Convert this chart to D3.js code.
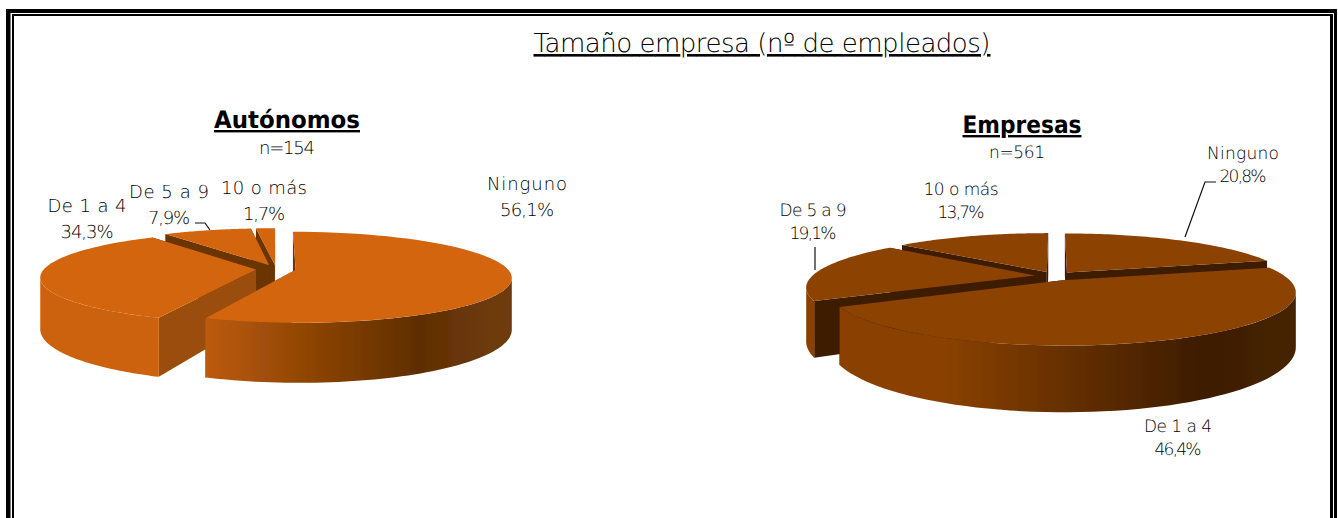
<!DOCTYPE html>
<html>
<head>
<meta charset="utf-8">
<script src="https://cdnjs.cloudflare.com/ajax/libs/d3/7.8.5/d3.min.js"></script>
<style>
  html, body { margin: 0; padding: 0; background: #fff; overflow: hidden; }
  text { font-family: "DejaVu Sans", sans-serif; font-weight: 200; fill: #000; text-rendering: geometricPrecision; }
</style>
</head>
<body>
<div id="chart"></div>
<script>
// data
var categories = ["Ninguno", "De 1 a 4", "De 5 a 9", "10 o más"];
var autonomosValues = [56.1, 34.3, 7.9, 1.7];
var empresasValues = [20.8, 46.4, 19.1, 13.7];
var autonomosLabels = ["56,1%", "34,3%", "7,9%", "1,7%"];
var empresasLabels = ["20,8%", "46,4%", "19,1%", "13,7%"];

var width = 1338, height = 518;

var svg = d3.select("#chart").append("svg")
  .attr("width", width)
  .attr("height", height)
  .style("display", "block");

var defs = svg.append("defs");

// pies in the picture are a little soft
defs.append("filter").attr("id", "soft")
  .append("feGaussianBlur").attr("stdDeviation", 0.5);

// double frame, open at the bottom
var frame = [
  {x: 6, y: 9, w: 4.5, h: height - 9}, {x: 6, y: 9, w: 1331, h: 4}, {x: 1334, y: 9, w: 3, h: height - 9},
  {x: 12, y: 14, w: 2, h: height - 14}, {x: 12, y: 14, w: 1321, h: 2}, {x: 1330, y: 14, w: 3, h: height - 14}
];
svg.selectAll(".frame").data(frame).enter().append("rect")
  .attr("class", "frame")
  .attr("x", d => d.x).attr("y", d => d.y)
  .attr("width", d => d.w).attr("height", d => d.h)
  .attr("fill", "#000");

svg.append("text")
  .attr("x", 762).attr("y", 52)
  .attr("text-anchor", "middle")
  .attr("font-size", 26)
  .attr("textLength", 457)
  .style("text-decoration", "underline")
  .text("Tamaño empresa (nº de empleados)");

// exploded pie in perspective
function drawPie(opt) {
  var g = svg.append("g").attr("filter", "url(#soft)");
  var pie = d3.pie().sort(null).value(d => d)(opt.values);
  var line = d3.line();

  function project(theta, r, z, off) {
    var X = r * Math.sin(theta) + opt.explode * Math.sin(off);
    var Y = (-r * Math.cos(theta) - opt.explode * Math.cos(off)) / opt.R;
    var w = 1 - opt.persp * Y;
    return [opt.cx + X / w, opt.cy + (opt.ry * Y + z) / w];
  }

  var gradId = "wall-" + opt.id;
  var grad = defs.append("linearGradient")
    .attr("id", gradId)
    .attr("gradientUnits", "userSpaceOnUse")
    .attr("x1", opt.cx - opt.R * 0.5).attr("x2", opt.cx + opt.R).attr("y1", 0).attr("y2", 0);
  grad.append("stop").attr("offset", 0).attr("stop-color", opt.wallLight);
  grad.append("stop").attr("offset", 0.78).attr("stop-color", opt.wallDark);
  grad.append("stop").attr("offset", 1).attr("stop-color", opt.wallEnd);

  // back slices first
  var slices = pie.map((s, i) => ({
    start: s.startAngle, end: s.endAngle, mid: (s.startAngle + s.endAngle) / 2, i: i
  })).sort((a, b) => Math.cos(b.mid) - Math.cos(a.mid));

  // the rim turns away from the eye where Y equals the perspective factor
  var limit = Math.acos(-opt.persp);

  slices.forEach(function(s) {
    var slice = g.append("g").attr("class", "slice");

    // cut faces
    [s.start, s.end].map(a => ({a: a, y: -Math.cos(a)}))
      .sort((a, b) => a.y - b.y)
      .forEach(function(f) {
        slice.append("path")
          .attr("d", line([
            project(0, 0, 0, s.mid), project(f.a, opt.R, 0, s.mid),
            project(f.a, opt.R, opt.depth, s.mid), project(0, 0, opt.depth, s.mid)
          ]) + "Z")
          .attr("fill", f.a > Math.PI && f.a < Math.PI * 1.3 && opt.id == "a" ? opt.cutLight : opt.cut);
      });

    // outer wall, front part only
    var a0 = Math.max(s.start, limit), a1 = Math.min(s.end, Math.PI * 2 - limit);
    if (a1 > a0) {
      var angles = d3.range(0, 61).map(i => a0 + (a1 - a0) * i / 60);
      var wall = angles.map(a => project(a, opt.R, 0, s.mid))
        .concat(angles.slice().reverse().map(a => project(a, opt.R, opt.depth, s.mid)));
      slice.append("path")
        .attr("d", line(wall) + "Z")
        .attr("fill", "url(#" + gradId + ")");
    }

    // top surface
    var rim = d3.range(0, 61).map(i => s.start + (s.end - s.start) * i / 60)
      .map(a => project(a, opt.R, 0, s.mid));
    slice.append("path")
      .attr("d", line([project(0, 0, 0, s.mid)].concat(rim)) + "Z")
      .attr("fill", opt.top);
  });

  // heading
  svg.append("text")
    .attr("x", opt.titlePos[0]).attr("y", opt.titlePos[1])
    .attr("text-anchor", "middle")
    .attr("font-size", 24)
    .attr("textLength", opt.titleWidth)
    .attr("lengthAdjust", "spacingAndGlyphs")
    .style("font-weight", 700)
    .style("text-decoration", "underline")
    .text(opt.title);
  svg.append("text")
    .attr("x", opt.nPos[0]).attr("y", opt.nPos[1])
    .attr("text-anchor", "middle")
    .attr("font-size", opt.labelSize)
    .attr("textLength", 56)
    .text(opt.n);

  // leader lines
  svg.selectAll(".leader-" + opt.id).data(opt.leaders).enter().append("path")
    .attr("class", "leader-" + opt.id)
    .attr("d", d => line(d))
    .attr("fill", "none")
    .attr("stroke", "#111")
    .attr("stroke-width", 1.2);

  // category and percentage labels
  categories.forEach(function(c, i) {
    var p = opt.labelPos[i];
    svg.append("text").attr("x", p[0]).attr("y", p[1])
      .attr("text-anchor", "middle").attr("font-size", opt.labelSize)
      .attr("textLength", opt.catWidth[i])
      .text(c);
    svg.append("text").attr("x", p[0]).attr("y", p[1] + opt.labelGap)
      .attr("text-anchor", "middle").attr("font-size", opt.labelSize)
      .attr("textLength", opt.pctWidth[i])
      .text(opt.labels[i]);
  });
}

drawPie({
  id: "a", values: autonomosValues, labels: autonomosLabels,
  cx: 276, cy: 269, R: 212, ry: 44, persp: 0.164, depth: 50, explode: 20,
  top: "#d2650a", wallLight: "#cc620a", wallDark: "#5e2e02", wallEnd: "#6e3a0c",
  cut: "#6b3402", cutLight: "#9a4d08",
  title: "Autónomos", titlePos: [287, 128], titleWidth: 146,
  n: "n=154", nPos: [287, 154],
  labelPos: [[527, 190], [87, 212], [169, 198], [264, 194]], labelSize: 18, labelGap: 26,
  catWidth: [80, 79, 80, 86], pctWidth: [54, 53, 42, 42],
  leaders: [[[195, 223], [205, 223], [210, 230]]]
});

drawPie({
  id: "e", values: empresasValues, labels: empresasLabels,
  cx: 1055, cy: 276, R: 223, ry: 49, persp: 0.218, depth: 51, explode: 20,
  top: "#8c4206", wallLight: "#8a4106", wallDark: "#3c1c02", wallEnd: "#452206",
  cut: "#3e1e02", cutLight: "#3e1e02",
  title: "Empresas", titlePos: [1022, 133], titleWidth: 119,
  n: "n=561", nPos: [1017, 158],
  labelPos: [[1243, 159], [1178, 432], [813, 216], [961, 195]], labelSize: 17, labelGap: 23,
  catWidth: [72, 68, 67, 75], pctWidth: [47, 47, 47, 47],
  leaders: [[[1216, 182], [1205, 182], [1185, 237]], [[815, 247], [815, 270]]]
});
</script>
</body>
</html>
